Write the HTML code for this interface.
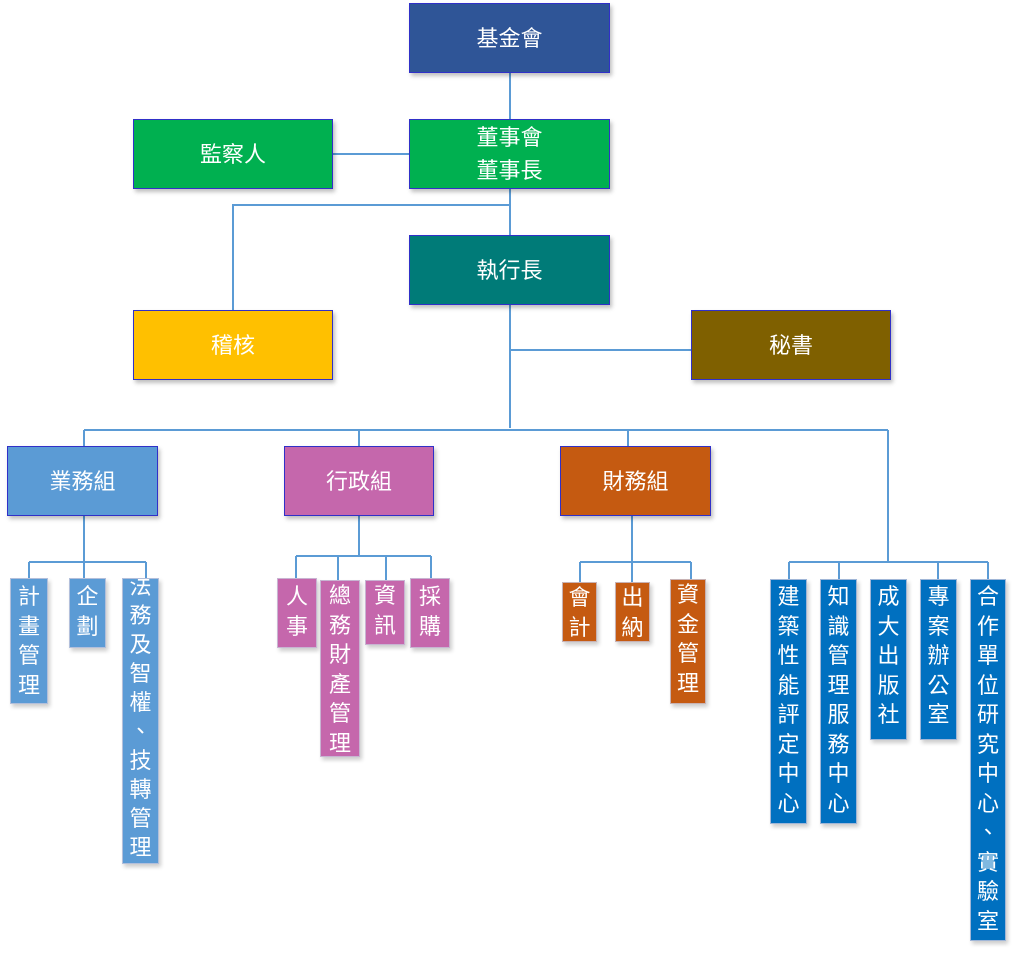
<!DOCTYPE html>
<html><head><meta charset="utf-8"><style>
body{margin:0;width:1015px;height:953px;background:#fff;position:relative;overflow:hidden;font-family:"Liberation Sans","Noto Sans CJK TC",sans-serif;}
.b{position:absolute;box-sizing:border-box;color:#fff;display:flex;align-items:center;justify-content:center;text-align:center;font-size:22px;line-height:33px;border:1px solid #3030c8;box-shadow:2px 3px 4px rgba(0,0,0,.25);}
.s{position:absolute;box-sizing:border-box;color:#fff;text-align:center;font-size:22px;line-height:29.5px;padding-top:3px;border:1px solid rgba(200,200,220,.8);box-shadow:2px 3px 4px rgba(0,0,0,.2);overflow:hidden;}
svg{position:absolute;left:0;top:0}
.bl{background:#5B9BD5}.pk{background:#C567AC}.or{background:#C55A11}.db{background:#0070C0}
</style></head><body>
<svg width="1015" height="953"><g stroke="#5B9BD5" stroke-width="2" fill="none">
<path d="M510 73V235M333 154H409M510 205H233V310M510 305V428M510 350H691"/>
<path d="M84 430H888M84 430V446M359 430V446M628 430V446M888 430V562"/>
<path d="M84 516V578M29 562H146M29 562V578M146 562V578"/>
<path d="M359 516V556M296 556H431M296 556V578M338 556V580M386 556V580M431 556V578"/>
<path d="M632 516V582M580 562H691M580 562V582M691 562V579"/>
<path d="M789 562H988M789 562V579M839 562V579M938 562V579M988 562V579"/>
</g></svg>
<div class="b" style="left:409px;top:3px;width:201px;height:70px;background:#2F5597">基金會</div>
<div class="b" style="left:409px;top:119px;width:201px;height:70px;background:#00B050">董事會<br>董事長</div>
<div class="b" style="left:133px;top:119px;width:200px;height:70px;background:#00B050">監察人</div>
<div class="b" style="left:409px;top:235px;width:201px;height:70px;background:#007B78">執行長</div>
<div class="b" style="left:133px;top:310px;width:200px;height:70px;background:#FFC000">稽核</div>
<div class="b" style="left:691px;top:310px;width:200px;height:70px;background:#7F6000">秘書</div>
<div class="b" style="left:7px;top:446px;width:151px;height:70px;background:#5B9BD5">業務組</div>
<div class="b" style="left:284px;top:446px;width:150px;height:70px;background:#C567AC">行政組</div>
<div class="b" style="left:560px;top:446px;width:151px;height:70px;background:#C55A11">財務組</div>

<div class="s bl" style="left:10px;top:578px;width:38px;height:126px">計<br>畫<br>管<br>理</div>
<div class="s bl" style="left:69px;top:578px;width:37px;height:70px">企<br>劃</div>
<div class="s bl" style="left:122px;top:578px;width:37px;height:286px;padding-top:0;line-height:29px"><div style="margin-top:-7px">法<br>務<br>及<br>智<br>權<br>、<br>技<br>轉<br>管<br>理</div></div>

<div class="s pk" style="left:277px;top:578px;width:40px;height:70px">人<br>事</div>
<div class="s pk" style="left:320px;top:580px;width:40px;height:177px;padding-top:0">總<br>務<br>財<br>產<br>管<br>理</div>
<div class="s pk" style="left:365px;top:580px;width:40px;height:65px;padding-top:0">資<br>訊</div>
<div class="s pk" style="left:410px;top:578px;width:40px;height:70px">採<br>購</div>

<div class="s or" style="left:562px;top:582px;width:35px;height:60px;padding-top:0">會<br>計</div>
<div class="s or" style="left:615px;top:582px;width:35px;height:60px;padding-top:0">出<br>納</div>
<div class="s or" style="left:670px;top:579px;width:36px;height:125px;padding-top:0">資<br>金<br>管<br>理</div>

<div class="s db" style="left:770px;top:579px;width:37px;height:245px;padding-top:2px">建<br>築<br>性<br>能<br>評<br>定<br>中<br>心</div>
<div class="s db" style="left:820px;top:579px;width:37px;height:245px;padding-top:2px">知<br>識<br>管<br>理<br>服<br>務<br>中<br>心</div>
<div class="s db" style="left:870px;top:579px;width:37px;height:161px;padding-top:2px">成<br>大<br>出<br>版<br>社</div>
<div class="s db" style="left:920px;top:579px;width:37px;height:161px;padding-top:2px">專<br>案<br>辦<br>公<br>室</div>
<div class="s db" style="left:970px;top:579px;width:36px;height:362px;padding-top:2px">合<br>作<br>單<br>位<br>研<br>究<br>中<br>心<br>、<br>實<br>驗<br>室</div>
</body></html>
